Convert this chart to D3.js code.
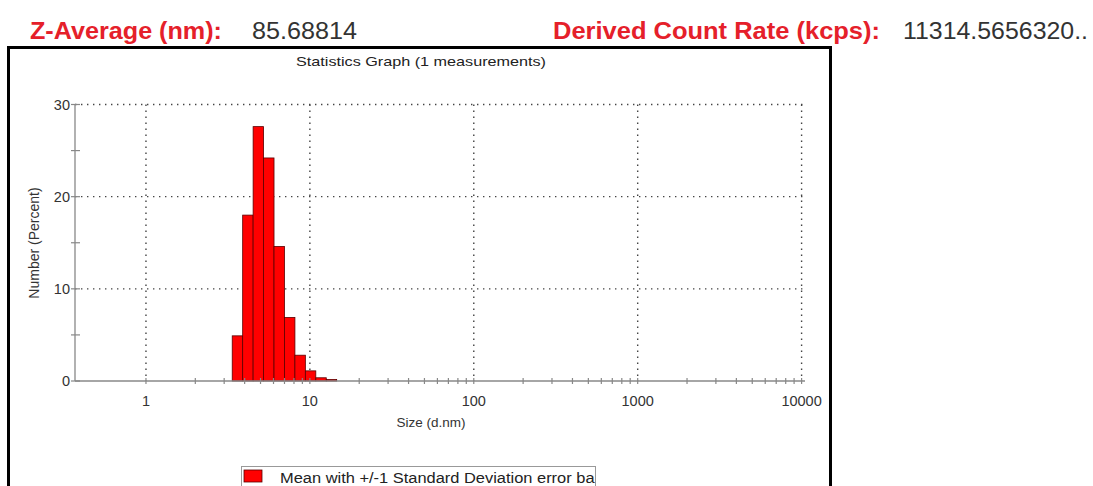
<!DOCTYPE html>
<html>
<head>
<meta charset="utf-8">
<script src="https://cdn.jsdelivr.net/npm/d3@7"></script>
<style>
  body { margin: 0; background: #fff; }
  svg { display: block; font-family: "Liberation Sans", Arial, sans-serif; }
</style>
</head>
<body>
<svg id="chart" width="1093" height="486"></svg>
<script>
// header values
const headerLabels = ["Z-Average (nm):", "Derived Count Rate (kcps):"];
const headerValues = ["85.68814", "11314.5656320.."];

// size classes (d.nm), bar centres, and number %
const sizes = [3.615, 4.187, 4.849, 5.615, 6.503, 7.531, 8.721, 10.10, 11.70, 13.54];
const numbers = [4.9, 18.0, 27.6, 24.2, 14.6, 6.9, 2.8, 1.1, 0.35, 0.17];

const xTicks = [1, 10, 100, 1000, 10000];
const yTicks = [0, 10, 20, 30];
const yMinor = [5, 15, 25];

const svg = d3.select("#chart");

// header line
const hdr = [
  { t: headerLabels[0], x: 30, w: 192, c: "#e5202a", b: true },
  { t: headerValues[0], x: 252, w: 105, c: "#333", b: false },
  { t: headerLabels[1], x: 553, w: 327, c: "#e5202a", b: true },
  { t: headerValues[1], x: 903, w: 185, c: "#333", b: false }
];
svg.selectAll("text.hdr")
  .data(hdr)
  .enter()
  .append("text")
  .attr("class", "hdr")
  .attr("x", d => d.x)
  .attr("y", 39)
  .attr("textLength", d => d.w)
  .attr("lengthAdjust", "spacingAndGlyphs")
  .style("font-size", "24.5px")
  .style("font-weight", d => d.b ? "bold" : "normal")
  .style("fill", d => d.c)
  .text(d => d.t);

// outer frame
svg.append("rect")
  .attr("x", 8.5).attr("y", 47.5)
  .attr("width", 822).attr("height", 480)
  .style("fill", "#fff")
  .style("stroke", "#000")
  .style("stroke-width", 3);

svg.append("text")
  .attr("x", 421).attr("y", 66)
  .attr("text-anchor", "middle")
  .attr("textLength", 250)
  .attr("lengthAdjust", "spacingAndGlyphs")
  .style("font-size", "13px")
  .style("fill", "#222")
  .text("Statistics Graph (1 measurements)");

const x = d3.scaleLog().domain([0.369, 10490]).range([75, 805]);
const y = d3.scaleLinear().domain([0, 30]).range([381, 104.5]);

// grid, dotted
const grid = svg.append("g");
grid.selectAll("line.gy")
  .data(yTicks.filter(d => d > 0))
  .enter()
  .append("line")
  .attr("x1", 75).attr("x2", 805)
  .attr("y1", d => y(d)).attr("y2", d => y(d))
  .style("stroke", "#444")
  .style("stroke-width", 1.4)
  .style("stroke-dasharray", "1.4,4.6");
grid.selectAll("line.gx")
  .data(xTicks)
  .enter()
  .append("line")
  .attr("x1", d => x(d)).attr("x2", d => x(d))
  .attr("y1", y(30)).attr("y2", y(0))
  .style("stroke", "#444")
  .style("stroke-width", 1.4)
  .style("stroke-dasharray", "1.4,4.6");

// bars, edges at geometric midpoints between neighbouring classes
const ratio = Math.sqrt(sizes[1] / sizes[0]);
svg.append("g")
  .selectAll("rect")
  .data(sizes)
  .enter()
  .append("rect")
  .attr("x", d => x(d / ratio))
  .attr("width", d => x(d * ratio) - x(d / ratio))
  .attr("y", (d, i) => y(numbers[i]))
  .attr("height", (d, i) => y(0) - y(numbers[i]))
  .style("fill", "#ff0000")
  .style("stroke", "#5a0000")
  .style("stroke-width", 0.8);

// axes
const axisColor = "#888";
svg.append("line")
  .attr("x1", 75).attr("x2", 75)
  .attr("y1", y(30)).attr("y2", y(0))
  .style("stroke", axisColor).style("stroke-width", 1.3);
svg.append("line")
  .attr("x1", 75).attr("x2", 805)
  .attr("y1", y(0)).attr("y2", y(0))
  .style("stroke", axisColor).style("stroke-width", 1.3);

// minor x ticks, 2..9 of each decade, plus decades
let xMinor = [];
xTicks.forEach(function(d) {
  xMinor.push(d);
  if (d < 10000) for (let k = 2; k < 10; k++) xMinor.push(d * k);
});
svg.selectAll("line.xt")
  .data(xMinor)
  .enter()
  .append("line")
  .attr("x1", d => x(d)).attr("x2", d => x(d))
  .attr("y1", y(0) - 3).attr("y2", y(0) + 3)
  .style("stroke", axisColor).style("stroke-width", 1.2);

svg.selectAll("line.yt")
  .data(yMinor.concat(yTicks))
  .enter()
  .append("line")
  .attr("x1", 71).attr("x2", 80)
  .attr("y1", d => y(d)).attr("y2", d => y(d))
  .style("stroke", axisColor).style("stroke-width", 1.2);

// tick labels
svg.selectAll("text.yl")
  .data(yTicks)
  .enter()
  .append("text")
  .attr("x", 70)
  .attr("y", d => y(d) + 5)
  .attr("text-anchor", "end")
  .style("font-size", "14.5px")
  .style("fill", "#333")
  .text(d => d);

svg.selectAll("text.xl")
  .data(xTicks)
  .enter()
  .append("text")
  .attr("x", d => x(d))
  .attr("y", 406)
  .attr("text-anchor", "middle")
  .style("font-size", "14.5px")
  .style("fill", "#333")
  .text(d => d);

svg.append("text")
  .attr("x", 431).attr("y", 427)
  .attr("text-anchor", "middle")
  .style("font-size", "13.5px")
  .style("fill", "#333")
  .text("Size (d.nm)");

svg.append("text")
  .attr("transform", "translate(39,243) rotate(-90)")
  .attr("text-anchor", "middle")
  .style("font-size", "14px")
  .style("fill", "#333")
  .text("Number (Percent)");

// legend, text clipped by its box
svg.append("clipPath").attr("id", "legclip")
  .append("rect").attr("x", 241).attr("y", 466).attr("width", 354).attr("height", 30);
svg.append("rect")
  .attr("x", 241.5).attr("y", 466.5)
  .attr("width", 354).attr("height", 30)
  .style("fill", "#fff")
  .style("stroke", "#999")
  .style("stroke-width", 1);
svg.append("rect")
  .attr("x", 244).attr("y", 470)
  .attr("width", 18).attr("height", 12)
  .style("fill", "#ff0000")
  .style("stroke", "#5a0000")
  .style("stroke-width", 0.8);
svg.append("text")
  .attr("x", 280).attr("y", 483)
  .attr("clip-path", "url(#legclip)")
  .attr("textLength", 320)
  .attr("lengthAdjust", "spacingAndGlyphs")
  .style("font-size", "14px")
  .style("fill", "#222")
  .text("Mean with +/-1 Standard Deviation error bar");
</script>
</body>
</html>
